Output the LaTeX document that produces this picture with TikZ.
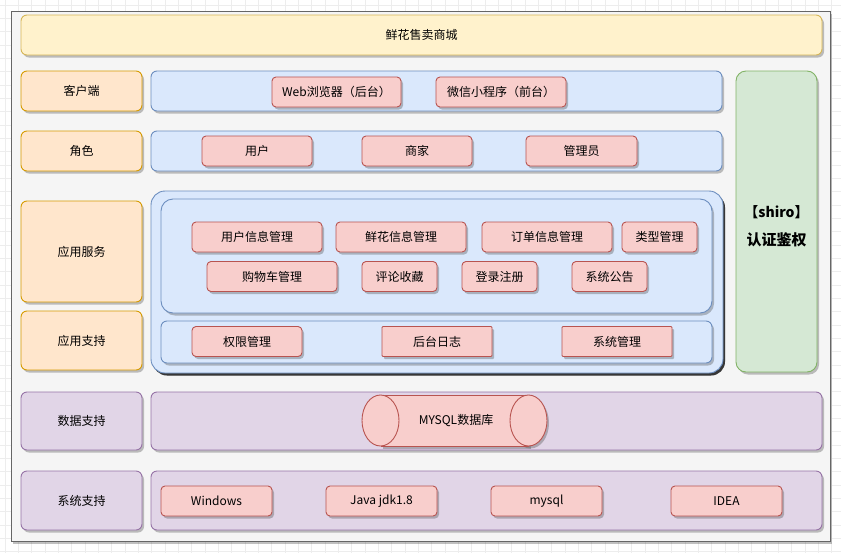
\documentclass[tikz,border=0pt]{standalone}
\usepackage{fontspec}
\setmainfont{Noto Sans CJK SC}
\usetikzlibrary{shadows,shapes.geometric}
\definecolor{gridc}{HTML}{EDEDED}
\definecolor{panelf}{HTML}{F5F5F5}
\definecolor{paneld}{HTML}{666666}
\definecolor{yelf}{HTML}{FFF2CC}
\definecolor{yeld}{HTML}{D6B656}
\definecolor{orf}{HTML}{FFE6CC}
\definecolor{ord}{HTML}{D79B00}
\definecolor{blf}{HTML}{DAE8FC}
\definecolor{bld}{HTML}{6C8EBF}
\definecolor{puf}{HTML}{E1D5E7}
\definecolor{pud}{HTML}{9673A6}
\definecolor{grf}{HTML}{D5E8D4}
\definecolor{grd}{HTML}{82B366}
\definecolor{pkf}{HTML}{F8CECC}
\definecolor{pkd}{HTML}{B85450}
\tikzset{
  every node/.style={font=\fontsize{12pt}{14pt}\selectfont, text=black},
  sh/.style={drop shadow={shadow xshift=2pt, shadow yshift=-2.5pt, opacity=0.35, fill=black!70}},
  box/.style={rectangle, rounded corners=6pt, line width=0.9pt, inner sep=0pt, sh},
  yelbox/.style={box, fill=yelf, draw=yeld},
  orbox/.style={box, fill=orf, draw=ord},
  blbox/.style={box, fill=blf, draw=bld},
  pubox/.style={box, fill=puf, draw=pud},
  grbox/.style={box, fill=grf, draw=grd},
  pkbox/.style={box, rounded corners=4pt, fill=pkf, draw=pkd, minimum height=30pt},
}
\begin{document}
\begin{tikzpicture}[x=1pt, y=-1pt]
\useasboundingbox (0,0) rectangle (841,552);
\fill[white] (0,0) rectangle (841,552);
\draw[gridc, line width=0.5pt, step=13.333pt, shift={(5,5)}] (-5,-5) grid (845,560);
% outer panel
\node[rectangle, fill=panelf, draw=paneld, line width=0.9pt, minimum width=819, minimum height=530, inner sep=0, sh] (panel) at (420.5,276) {};
% title
\node[yelbox, minimum width=801, minimum height=40] (title) at (421.5,35) {鲜花售卖商城};
% left labels
\node[orbox, minimum width=121, minimum height=40] (lclient) at (81.5,91) {客户端};
\node[orbox, minimum width=121, minimum height=40] (lrole) at (81.5,151) {角色};
\node[orbox, minimum width=121, minimum height=101] (lsvc) at (81.5,251.5) {应用服务};
\node[orbox, minimum width=121, minimum height=59] (lsup) at (81.5,340.5) {应用支持};
\node[pubox, minimum width=121, minimum height=58] (ldata) at (81.5,421) {数据支持};
\node[pubox, minimum width=121, minimum height=59] (lsys) at (81.5,500.5) {系统支持};
% right rows
\node[blbox, minimum width=571, minimum height=40] (rclient) at (436.5,91) {};
\node[blbox, minimum width=571, minimum height=40] (rrole) at (436.5,151) {};
\node[blbox, rounded corners=14pt, minimum width=572, minimum height=182, drop shadow={shadow xshift=2pt, shadow yshift=-2.5pt, opacity=0.7, fill=black}] (rapp) at (437,282) {};
\node[blbox, rounded corners=12pt, minimum width=551, minimum height=114] (rsvc) at (436.5,256) {};
\node[blbox, minimum width=551, minimum height=42] (rsup) at (436.5,342) {};
\node[pubox, minimum width=671, minimum height=58] (rdata) at (486.5,421) {};
\node[pubox, minimum width=671, minimum height=59] (rsys) at (486.5,500.5) {};
% green auth
\node[grbox, rounded corners=10pt, minimum width=81, minimum height=301] (auth) at (776.5,221.5) {};
\node[font=\fontsize{14pt}{16pt}\selectfont\bfseries] (authA) at (776.5,212) {【shiro】};
\node[font=\fontsize{15pt}{17pt}\selectfont\bfseries] (authB) at (776.5,240) {认证鉴权};
% client items
\node[pkbox, minimum width=129] (web) at (336.5,92) {Web浏览器（后台）};
\node[pkbox, minimum width=130] (wx) at (501,92) {微信小程序（前台）};
% roles
\node[pkbox, minimum width=110] (user) at (257,151) {用户};
\node[pkbox, minimum width=110] (shop) at (417,151) {商家};
\node[pkbox, minimum width=111] (admin) at (581.5,151) {管理员};
% services
\node[pkbox, minimum width=130] (s1) at (257,237) {用户信息管理};
\node[pkbox, minimum width=130] (s2) at (401,237) {鲜花信息管理};
\node[pkbox, minimum width=130] (s3) at (547,237) {订单信息管理};
\node[pkbox, minimum width=75] (s4) at (659.5,237) {类型管理};
\node[pkbox, minimum width=130] (s5) at (272,276.5) {购物车管理};
\node[pkbox, minimum width=75] (s6) at (399.5,276.5) {评论收藏};
\node[pkbox, minimum width=75] (s7) at (499.5,276.5) {登录注册};
\node[pkbox, minimum width=75] (s8) at (609.5,276.5) {系统公告};
% support
\node[pkbox, minimum width=110] (p1) at (247,341.5) {权限管理};
\node[pkbox, rounded corners=1pt, minimum width=110] (p2) at (437,341.5) {后台日志};
\node[pkbox, rounded corners=1pt, minimum width=110] (p3) at (617,341.5) {系统管理};
% database cylinder
\begin{scope}[line width=0.9pt]
\fill[black!70, opacity=0.35] (382.5,397.5) rectangle (530.5,448.5);
\fill[black!70, opacity=0.35] (530.5,423) ellipse [x radius=18.5, y radius=25.5];
\fill[pkf] (379,395) rectangle (530,446);
\draw[pkd] (380.5,395) -- (528.5,395) (380.5,446) -- (528.5,446);
\filldraw[fill=pkf, draw=pkd] (380.5,420.5) ellipse [x radius=18.5, y radius=25.5];
\filldraw[fill=pkf, draw=pkd] (528.5,420.5) ellipse [x radius=18.5, y radius=25.5];
\end{scope}
\node (db) at (456,420.5) {MYSQL数据库};
% system support items
\node[pkbox, minimum width=111] (w1) at (216.5,501) {Windows};
\node[pkbox, minimum width=111] (w2) at (381.5,501) {Java jdk1.8};
\node[pkbox, minimum width=111] (w3) at (546.5,501) {mysql};
\node[pkbox, minimum width=111] (w4) at (726.5,501) {IDEA};
\end{tikzpicture}
\end{document}
